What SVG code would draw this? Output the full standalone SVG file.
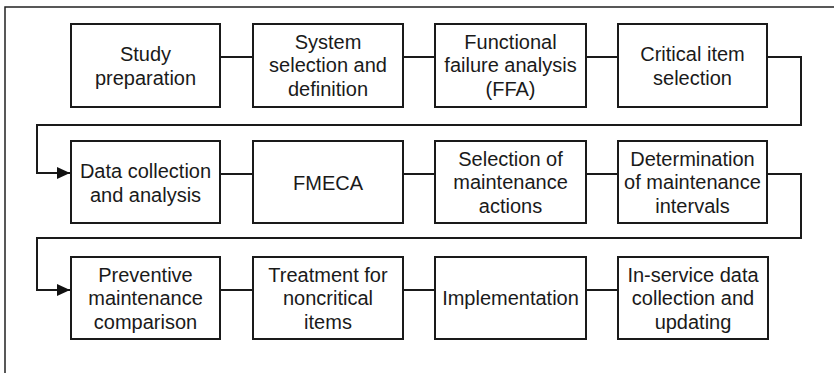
<svg xmlns="http://www.w3.org/2000/svg" width="834" height="373" viewBox="0 0 834 373">
<style>
.box{fill:#fff;stroke:#1a1a1a;stroke-width:2}
.t{font-family:"Liberation Sans",Arial,sans-serif;font-size:20px;fill:#1a1a1a;text-anchor:middle}
.c{fill:none;stroke:#1a1a1a;stroke-width:2}
</style>
<defs>
<marker id="ah" markerWidth="13" markerHeight="12" refX="13" refY="6" orient="auto" markerUnits="userSpaceOnUse">
<path d="M0,0 L13,6 L0,12 Z" fill="#111"/>
</marker>
</defs>
<rect x="5" y="7" width="900" height="420" fill="#fff" stroke="#222" stroke-width="1.5"/>
<g id="connectors">
<path class="c" d="M220,57 H253"/>
<path class="c" d="M403,57 H435"/>
<path class="c" d="M586,57 H618"/>
<path class="c" d="M767,57 H801 V125 H37 V173 H70" marker-end="url(#ah)"/>
<path class="c" d="M220,174 H253"/>
<path class="c" d="M403,174 H435"/>
<path class="c" d="M586,174 H618"/>
<path class="c" d="M767,174 H801 V238 H37 V290 H70" marker-end="url(#ah)"/>
<path class="c" d="M220,290 H253"/>
<path class="c" d="M403,290 H435"/>
<path class="c" d="M586,290 H618"/>
</g>
<g id="n1"><rect class="box" x="71" y="24" width="149" height="83"/><text class="t" x="145.5" y="61">Study</text><text class="t" x="145.5" y="84.5">preparation</text></g>
<g id="n2"><rect class="box" x="253" y="24" width="150" height="83"/><text class="t" x="328" y="48.5">System</text><text class="t" x="328" y="72">selection and</text><text class="t" x="328" y="95.5">definition</text></g>
<g id="n3"><rect class="box" x="435" y="24" width="151" height="83"/><text class="t" x="510.5" y="48.5">Functional</text><text class="t" x="510.5" y="72">failure analysis</text><text class="t" x="510.5" y="95.5">(FFA)</text></g>
<g id="n4"><rect class="box" x="618" y="24" width="149" height="83"/><text class="t" x="692.5" y="61">Critical item</text><text class="t" x="692.5" y="84.5">selection</text></g>
<g id="n5"><rect class="box" x="71" y="141" width="149" height="82"/><text class="t" x="145.5" y="178">Data collection</text><text class="t" x="145.5" y="201.5">and analysis</text></g>
<g id="n6"><rect class="box" x="253" y="141" width="150" height="82"/><text class="t" x="328" y="189.5">FMECA</text></g>
<g id="n7"><rect class="box" x="435" y="141" width="151" height="82"/><text class="t" x="510.5" y="165.5">Selection of</text><text class="t" x="510.5" y="189">maintenance</text><text class="t" x="510.5" y="212.5">actions</text></g>
<g id="n8"><rect class="box" x="618" y="141" width="149" height="82"/><text class="t" x="692.5" y="165.5">Determination</text><text class="t" x="692.5" y="189">of maintenance</text><text class="t" x="692.5" y="212.5">intervals</text></g>
<g id="n9"><rect class="box" x="71" y="257" width="149" height="82"/><text class="t" x="145.5" y="281.5">Preventive</text><text class="t" x="145.5" y="305">maintenance</text><text class="t" x="145.5" y="328.5">comparison</text></g>
<g id="n10"><rect class="box" x="253" y="257" width="150" height="82"/><text class="t" x="328" y="281.5">Treatment for</text><text class="t" x="328" y="305">noncritical</text><text class="t" x="328" y="328.5">items</text></g>
<g id="n11"><rect class="box" x="435" y="257" width="151" height="82"/><text class="t" x="510.5" y="305">Implementation</text></g>
<g id="n12"><rect class="box" x="618" y="257" width="150" height="82"/><text class="t" x="693" y="281.5">In-service data</text><text class="t" x="693" y="305">collection and</text><text class="t" x="693" y="328.5">updating</text></g>
</svg>
